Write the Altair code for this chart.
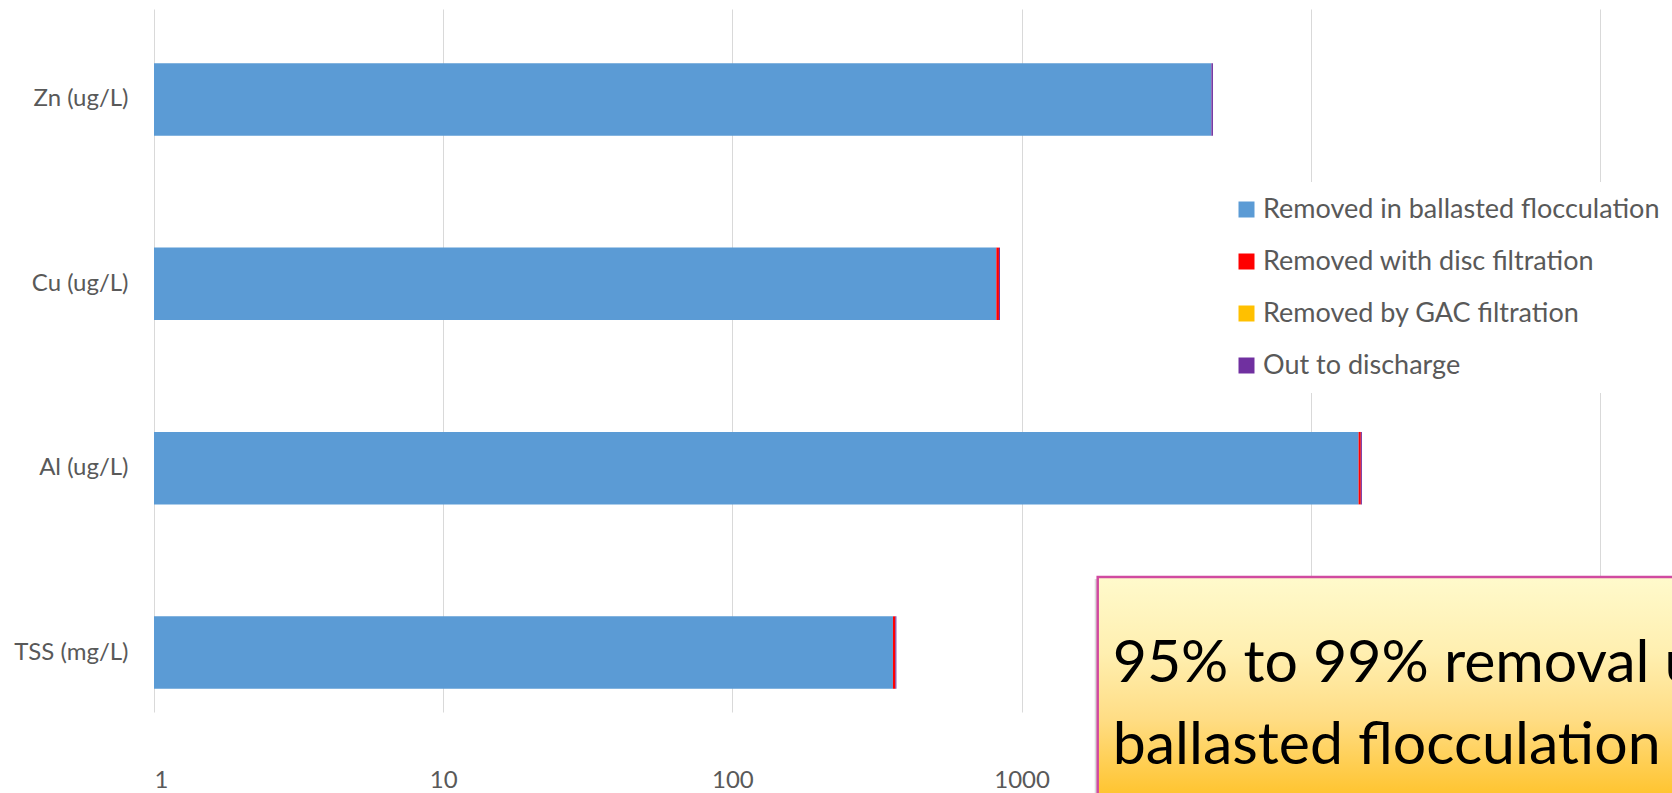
import altair as alt
import pandas as pd

# Parameters (top to bottom) and treatment stages
params = ["Zn (ug/L)", "Cu (ug/L)", "Al (ug/L)", "TSS (mg/L)"]
stages = [
    "Removed in ballasted flocculation",
    "Removed with disc filtration",
    "Removed by GAC filtration",
    "Out to discharge",
]
stage_colors = ["#5B9BD5", "#FF0000", "#FFC000", "#7030A0"]

# Amount in each stage, per parameter (same order as params)
ballasted = [4530, 818, 14630, 359]
disc = [3, 17, 260, 7]
gac = [0, 0, 0, 0]
discharge = [55, 7, 130, 3]

x_ticks = [1, 10, 100, 1000, 10000, 100000]

callout_lines = ["95% to 99% removal using", "ballasted flocculation"]

# Build stacked segments: each stage starts where the previous one ended
rows = []
for i, p in enumerate(params):
    total = 0.0
    for k, (s, vals) in enumerate(zip(stages, [ballasted, disc, gac, discharge])):
        start = max(total, 1.0)
        total += vals[i]
        rows.append({"param": p, "stage": s, "order": k,
                     "start": start, "end": max(total, 1.0)})
bars_df = pd.DataFrame(rows)

FONT = "Lato"
GREY = "#595959"

x_scale = alt.Scale(type="log", domain=[1, 100000], nice=False)
y_scale = alt.Scale(domain=params, paddingInner=0.607, paddingOuter=0.21, align=0.7)

bars = alt.Chart(bars_df).mark_bar().encode(
    y=alt.Y("param:N", scale=y_scale, sort=params, title=None,
            axis=alt.Axis(labelFontSize=24, labelColor=GREY, labelFont=FONT,
                          labelPadding=26, ticks=False, domain=False, grid=False)),
    x=alt.X("start:Q", scale=x_scale, title=None,
            axis=alt.Axis(values=x_ticks, labelFontSize=24, labelColor=GREY,
                          labelFont=FONT, labelPadding=56, ticks=False, domain=False,
                          # the callout box sits over the two largest tick labels
                          labelExpr="datum.value >= 10000 ? '' : format(datum.value, 'd')",
                          grid=True, gridColor="#D9D9D9", gridWidth=1)),
    x2="end:Q",
    color=alt.Color("stage:N", scale=alt.Scale(domain=stages, range=stage_colors),
                    sort=stages,
                    legend=alt.Legend(title=None, orient="none", legendX=1065, legendY=173,
                                      symbolType="square", symbolSize=256,
                                      symbolStrokeWidth=0, labelFontSize=27,
                                      labelFont=FONT, labelColor=GREY, labelOffset=3,
                                      rowPadding=24, padding=14, fillColor="white",
                                      labelLimit=700)),
    order=alt.Order("order:Q"),
)

# Highlighted callout box with gradient fill and a soft left shadow
box_df = pd.DataFrame({"x0": [1833]})
shadow = alt.Chart(box_df).mark_rect(
    fill="#9A9A9A", opacity=0.35, xOffset=-3, yOffset=2,
).encode(
    x=alt.X("x0:Q", scale=x_scale),
    x2=alt.value(1600),
    y=alt.value(568),
    y2=alt.value(800),
)
box = alt.Chart(box_df).mark_rect(
    fill=alt.Gradient(
        gradient="linear", x1=0, y1=0, x2=0, y2=1,
        stops=[alt.GradientStop(color="#FFFACC", offset=0),
               alt.GradientStop(color="#FFEFB0", offset=0.35),
               alt.GradientStop(color="#FFDD85", offset=0.65),
               alt.GradientStop(color="#FFC42F", offset=1)],
    ),
    stroke="#D04BA0", strokeWidth=2.5,
).encode(
    x=alt.X("x0:Q", scale=x_scale),
    x2=alt.value(1600),
    y=alt.value(568),
    y2=alt.value(786),
)

text_df = pd.DataFrame({"x0": [2065], "line": [callout_lines]})
callout = alt.Chart(text_df).mark_text(
    align="left", baseline="alphabetic", fontSize=59, font=FONT,
    color="#000000", lineHeight=82,
).encode(
    x=alt.X("x0:Q", scale=x_scale),
    y=alt.value(673),
    text="line",
)

chart = alt.layer(bars, shadow, box, callout).properties(
    width=1446, height=703,
    autosize=alt.AutoSizeParams(type="none"),
    padding={"left": 154, "top": 9, "right": 72, "bottom": 81},
).configure(
    background="white",
    view=alt.ViewConfig(strokeWidth=0, stroke=None),
)

chart.save("out.html", embed_options={"renderer": "svg", "actions": False})
